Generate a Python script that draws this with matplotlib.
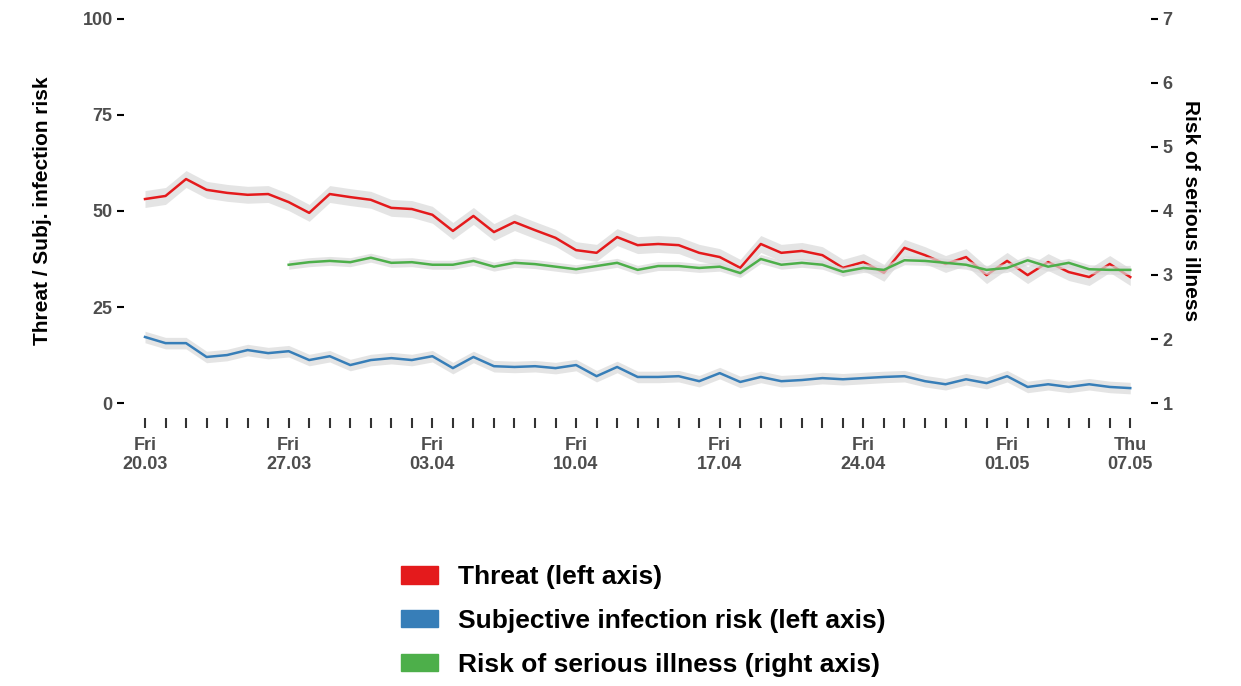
import matplotlib
matplotlib.use("Agg")
import matplotlib.pyplot as plt
from matplotlib.patches import Patch
import numpy as np

plt.rcParams['font.family'] = ['Liberation Sans', 'DejaVu Sans']
plt.rcParams['font.weight'] = 'bold'

# days since Fri 20.03
days = np.arange(49)
threat = [53.1, 53.9, 58.3, 55.5, 54.7, 54.2, 54.4, 52.3, 49.5, 54.4, 53.6, 52.9, 50.8, 50.5,
          49.0, 44.8, 48.7, 44.5, 47.1, 45.0, 43.0, 39.8, 39.1, 43.2, 41.1, 41.4, 41.1, 39.1,
          38.0, 35.2, 41.4, 39.1, 39.6, 38.5, 35.2, 36.7, 33.9, 40.4, 38.5, 36.2, 38.0, 33.3,
          37.0, 33.3, 36.7, 34.1, 32.8, 36.2, 32.8]
infection = [17.2, 15.6, 15.6, 12.0, 12.5, 13.8, 13.0, 13.5, 11.2, 12.2, 9.9, 11.2, 11.7, 11.2,
             12.2, 9.1, 12.0, 9.6, 9.4, 9.6, 9.1, 9.9, 7.0, 9.4, 6.8, 6.8, 7.0, 5.7,
             7.8, 5.5, 6.8, 5.7, 6.0, 6.5, 6.2, 6.5, 6.8, 7.0, 5.7, 4.9, 6.2, 5.2,
             7.0, 4.2, 4.9, 4.2, 4.9, 4.2, 3.9]
illness_days = np.arange(7, 49)
illness = [3.16, 3.20, 3.22, 3.20, 3.27, 3.19, 3.20, 3.16, 3.16, 3.22, 3.13, 3.19, 3.17, 3.13,
           3.09, 3.14, 3.19, 3.08, 3.14, 3.14, 3.11, 3.13, 3.03, 3.25, 3.16, 3.19, 3.16, 3.05,
           3.11, 3.08, 3.23, 3.22, 3.19, 3.16, 3.08, 3.11, 3.23, 3.13, 3.19, 3.09, 3.08, 3.08]
# confidence half-widths
threat_ci = 2.2
infection_ci = 1.5
illness_ci = 0.07

tick_days = [0, 7, 14, 21, 28, 35, 42, 48]
tick_labels = ["Fri\n20.03", "Fri\n27.03", "Fri\n03.04", "Fri\n10.04", "Fri\n17.04",
               "Fri\n24.04", "Fri\n01.05", "Thu\n07.05"]

red, blue, green = "#e41a1c", "#377eb8", "#4daf4a"
band = "#d9d9d9"
grey = "#4d4d4d"

fig = plt.figure(figsize=(12.41, 6.86), dpi=100)
ax = fig.add_axes([0.1003, 0.39, 0.827, 0.605])
ax2 = ax.twinx()

t = np.array(threat)
i = np.array(infection)
g = np.array(illness)
ax.fill_between(days, t - threat_ci, t + threat_ci, color=band, alpha=0.7, lw=0)
ax.fill_between(days, i - infection_ci, i + infection_ci, color=band, alpha=0.7, lw=0)
ax2.fill_between(illness_days, g - illness_ci, g + illness_ci, color=band, alpha=0.7, lw=0)
ax.plot(days, t, color=red, lw=1.8)
ax.plot(days, i, color=blue, lw=1.8)
ax2.plot(illness_days, g, color=green, lw=1.8)

ax.set_xlim(-1, 49)
ax.set_ylim(-4, 104)
ax2.set_ylim(1 - 4 * 0.06, 7 + 4 * 0.06)
ax.set_yticks([0, 25, 50, 75, 100])
ax2.set_yticks([1, 2, 3, 4, 5, 6, 7])
ax.set_xticks(tick_days)
ax.set_xticklabels(tick_labels, fontsize=13, color=grey, fontweight='bold')
ax.set_xticks(days, minor=True)
ax.tick_params(axis='x', which='both', length=7, width=1.5, color="#333333", direction='out', pad=6)
ax.tick_params(axis='y', length=5, width=1.5, labelsize=13, labelcolor=grey)
ax2.tick_params(axis='y', length=5, width=1.5, labelsize=13, labelcolor=grey)
for a in (ax, ax2):
    for s in a.spines.values():
        s.set_visible(False)
    for lab in a.get_yticklabels():
        lab.set_fontweight('bold')

ax.set_ylabel("Threat / Subj. infection risk", fontsize=15, fontweight='bold', labelpad=22)
ax2.set_ylabel("Risk of serious illness", fontsize=15, fontweight='bold', rotation=270, labelpad=20)

handles = [Patch(color=red), Patch(color=blue), Patch(color=green)]
labels = ["Threat (left axis)", "Subjective infection risk (left axis)",
          "Risk of serious illness (right axis)"]
fig.legend(handles, labels, loc='center', bbox_to_anchor=(0.5185, 0.095), frameon=False,
           prop={'size': 19, 'weight': 'bold'}, handlelength=1.4, handleheight=0.65,
           labelspacing=0.75, handletextpad=0.75)

fig.savefig("out.png", dpi=100)
